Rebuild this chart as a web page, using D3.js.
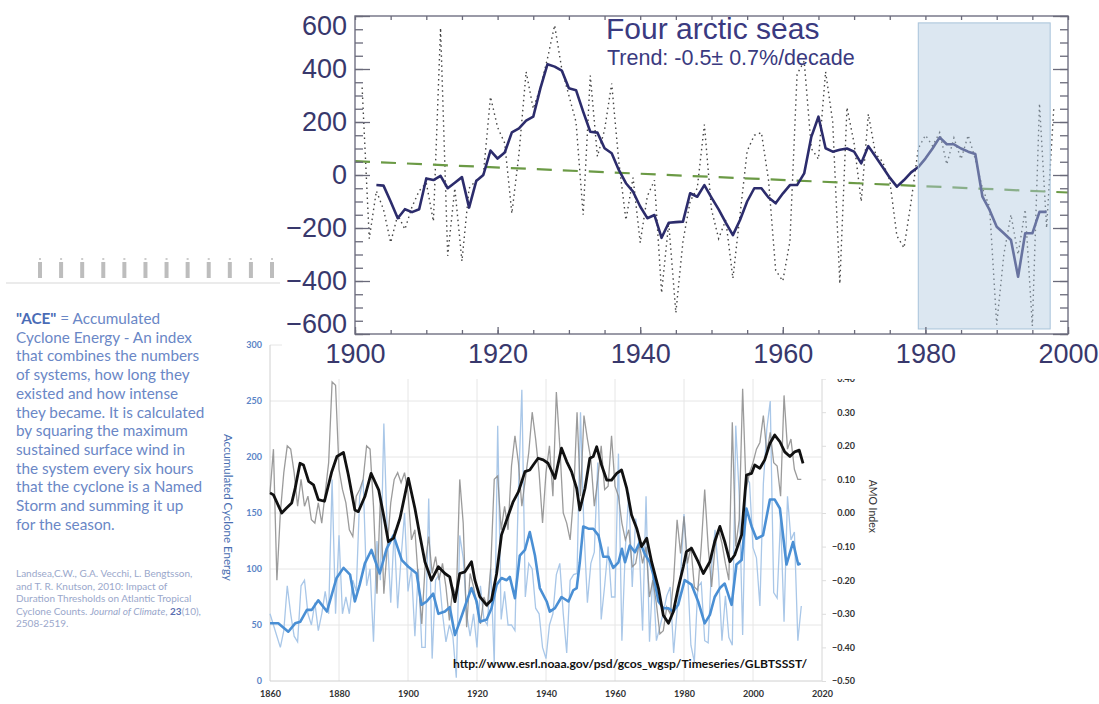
<!DOCTYPE html>
<html>
<head>
<meta charset="utf-8">
<script src="https://cdn.jsdelivr.net/npm/d3@7"></script>
<style>
  body { margin: 0; background: #fff; }
  svg { display: block; }
</style>
</head>
<body>
<svg id="display" width="1099" height="704"></svg>
<script>
// ---------- top chart: four arctic seas ----------
var arcticStart = 1903;
var arcticSmooth = [-38, -40, -100, -163, -129, -140, -129, -13, -19, -3,
  -50, -29, -8, -123, -23, 0, 92, 62, 85, 161,
  176, 205, 220, 327, 418, 409, 394, 327, 320, 239,
  163, 160, 101, 82, 19, -31, -63, -119, -163, -151,
  -237, -180, -178, -176, -69, -82, -38, -85, -130, -180,
  -227, -170, -100, -50, -50, -85, -107, -70, -38, -38,
  6, 144, 220, 101, 88, 95, 100, 88, 44, 109,
  70, 30, -10, -44, -19, 10, 30, 62, 100, 142,
  116, 116, 100, 88, 79, -82, -132, -195, -220, -245,
  -384, -220, -220, -139, -139];

var arcticAnnualStart = 1901;
var arcticAnnual = [330, -240, -60, -130, -255, -150, -205, -120, -60, -30,
  -175, 555, -305, -50, -325, -50, -20, 0, 295, 180,
  120, -145, 80, 390, 250, 330, 440, 565, 400, 300,
  200, -150, 375, 70, 170, 345, 50, -170, -10, -255,
  -80, -20, -445, -180, -520, -250, -100, -50, 190, -130,
  -240, -170, -390, -150, 90, 150, 160, -20, -360, -400,
  -250, 380, 430, 100, 60, 390, 200, -410, 255, 120,
  -100, 230, 80, 50, -20, -230, -275, -100, 100, 150,
  110, 160, 40, 140, 60, 150, 60, -50, -120, -565,
  -300, -150, -300, -130, -570, 270, -200, 250];

var trendYears = [1900, 2000];
var trendValues = [52, -66];
var boxYears = [1979, 1997.5];
var boxValues = [-581, 574];
var topYTicks = [-600, -400, -200, 0, 200, 400, 600];
var topXTicks = [1900, 1920, 1940, 1960, 1980, 2000];
var topTitle = "Four arctic seas";
var topSubtitle = "Trend: -0.5\u00b1 0.7%/decade";

// ---------- bottom chart: ACE and AMO ----------
var annualStart = 1860;
var aceAnnual = [60, 50, 40, 30, 45, 85, 60, 40, 35, 85,
  90, 60, 50, 70, 45, 60, 80, 60, 180, 60,
  130, 60, 75, 60, 90, 80, 165, 180, 85, 100,
  35, 125, 90, 230, 130, 70, 135, 65, 110, 150,
  80, 100, 40, 100, 30, 30, 163, 20, 90, 95,
  60, 35, 50, 40, 3, 130, 110, 60, 40, 60,
  30, 85, 55, 50, 100, 15, 228, 55, 80, 50,
  50, 45, 170, 260, 75, 105, 100, 65, 60, 30,
  20, 50, 60, 95, 105, 60, 25, 90, 95, 96,
  240, 135, 70, 105, 115, 195, 55, 85, 120, 75,
  75, 203, 36, 118, 168, 84, 145, 122, 45, 165,
  35, 97, 36, 48, 61, 76, 84, 25, 63, 93,
  149, 100, 32, 17, 84, 88, 36, 34, 103, 135,
  97, 36, 76, 39, 32, 228, 166, 41, 182, 177,
  119, 110, 67, 176, 225, 250, 79, 74, 146, 53,
  165, 126, 133, 36, 67];

var amoAnnual = [0.06, 0.19, -0.20, 0.00, 0.12, 0.20, 0.19, 0.12, 0.02, 0.10,
  0.02, 0.05, -0.02, -0.03, 0.03, -0.03, 0.06, 0.15, 0.39, 0.38,
  0.13, 0.07, 0.03, -0.05, -0.07, 0.05, 0.07, 0.10, 0.20, 0.19,
  0.02, -0.24, 0.05, -0.24, -0.10, 0.03, 0.10, 0.12, 0.09, 0.12,
  0.06, -0.08, -0.05, -0.20, -0.33, -0.15, -0.07, -0.18, -0.13, -0.20,
  -0.15, -0.22, -0.32, -0.22, -0.25, 0.10, -0.03, -0.34, -0.18, -0.22,
  -0.28, -0.33, -0.25, -0.28, -0.16, 0.10, 0.11, -0.05, 0.02, -0.05,
  0.14, 0.23, 0.15, 0.02, 0.10, 0.18, 0.30, 0.22, 0.12, -0.03,
  0.12, 0.20, 0.05, 0.36, 0.20, 0.00, -0.03, -0.08, 0.05, 0.30,
  0.05, 0.29, 0.22, 0.16, 0.02, 0.10, 0.20, 0.07, 0.08, 0.23,
  0.08, 0.05, -0.03, -0.08, -0.05, -0.16, -0.15, -0.09, -0.15, -0.10,
  -0.25, -0.20, -0.27, -0.36, -0.35, -0.28, -0.30, -0.20, -0.02, -0.12,
  -0.01, -0.15, -0.10, -0.22, -0.23, -0.10, 0.07, -0.10, -0.22, -0.10,
  -0.05, -0.09, -0.15, -0.20, 0.27, -0.10, -0.02, 0.37, 0.07, 0.12,
  0.15, 0.19, 0.21, 0.29, 0.18, 0.24, 0.15, 0.14, 0.05, 0.35,
  0.19, 0.22, 0.13, 0.10, 0.10];

var aceSmoothYears = [1860, 1862.4, 1865.3, 1867.3, 1868.8, 1870.7, 1872.1, 1874, 1876.5, 1877.9,
  1879.3, 1881.3, 1883.2, 1884.6, 1886, 1887.5, 1889.4, 1891.8, 1893.8, 1895.8,
  1898.2, 1900.1, 1902.5, 1903.9, 1905.4, 1907.3, 1908.8, 1910.7, 1912.1, 1913.6,
  1915, 1917, 1918.4, 1919.9, 1920.8, 1922.8, 1924.2, 1925.7, 1927.1, 1928.6,
  1929.5, 1931, 1932.4, 1933.9, 1935.3, 1936.8, 1938.2, 1940.2, 1941.1, 1942.6,
  1944.5, 1946.5, 1947.9, 1948.9, 1949.8, 1950.8, 1952.3, 1953.7, 1955.2, 1956.6,
  1958.1, 1959.5, 1961, 1962, 1962.9, 1964.3, 1965.8, 1967.2, 1968.7, 1970.1,
  1971.1, 1972.6, 1974, 1975.5, 1976.9, 1978.3, 1980.2, 1982.2, 1984.1, 1986,
  1987.5, 1988.9, 1990.4, 1991.8, 1993.8, 1995.2, 1996.7, 1998.1, 1999.6, 2001,
  2002.9, 2004.9, 2006.3, 2007.8, 2009.7, 2011.6, 2013.1, 2013.8];
var aceSmooth = [51.5, 51.5, 44, 51.5, 53, 63.5, 63.5, 72, 62, 77,
  92, 101, 95, 71, 86, 105, 117, 96, 118, 130,
  108, 102, 96, 68, 71, 78, 60, 62, 66, 41,
  53, 71, 83, 71, 53, 55, 65, 86, 92, 90,
  93, 74, 112, 117, 133, 112, 83, 71, 62, 65,
  75, 71, 81, 83, 106, 138, 136, 136, 130, 111,
  111, 101, 106, 118, 106, 121, 115, 124, 113, 106,
  95, 71, 65, 65, 62, 68, 90, 86, 71, 51.5,
  59, 75, 83, 87, 68, 104, 108, 154, 138, 127,
  130, 162, 162, 154, 104, 124, 104, 105];

var amoSmoothYears = [1860, 1861, 1863.4, 1864.8, 1866.3, 1867.3, 1868.7, 1869.7, 1871.2, 1872.6,
  1874, 1875.8, 1877.9, 1879.4, 1881.3, 1882.7, 1884.6, 1885.6, 1887.5, 1889.3,
  1891.5, 1892.9, 1894.3, 1895.8, 1897.7, 1900.1, 1902, 1903.4, 1904.9, 1906.8,
  1908.8, 1910.7, 1912.1, 1913.6, 1915, 1916.5, 1918.4, 1919.4, 1920.8, 1922.8,
  1924.2, 1925.7, 1927.1, 1929.1, 1930.5, 1932, 1933.9, 1935.3, 1936.3, 1937.7,
  1939.2, 1940.6, 1942.6, 1944.5, 1946, 1947.4, 1948.9, 1949.8, 1951.3, 1952.7,
  1953.7, 1954.7, 1956.1, 1957.6, 1959, 1960.5, 1961.9, 1963.4, 1964.8, 1966.3,
  1967.7, 1969.2, 1970.6, 1972.6, 1974, 1975.5, 1976.9, 1978.3, 1979.8, 1980.7,
  1982.2, 1984.1, 1985.6, 1987.5, 1988.9, 1990.4, 1991.8, 1993.3, 1994.7, 1996.7,
  1998.1, 1999.6, 2000.5, 2002, 2003.4, 2004.9, 2006.3, 2007.8, 2009.2, 2010.7,
  2012.1, 2013.4, 2014.5];
var amoSmooth = [0.06, 0.054, 0.0, 0.015, 0.03, 0.074, 0.148, 0.143, 0.094, 0.084,
  0.04, 0.035, 0.123, 0.168, 0.18, 0.114, 0.009, 0.004, 0.049, 0.118,
  0.069, -0.005, -0.085, -0.075, -0.015, 0.103, 0.014, -0.065, -0.145, -0.2,
  -0.16, -0.18, -0.19, -0.264, -0.18, -0.175, -0.145, -0.2, -0.249, -0.274,
  -0.259, -0.18, -0.065, -0.006, 0.034, 0.063, 0.123, 0.128, 0.143, 0.163,
  0.158, 0.148, 0.103, 0.193, 0.153, 0.123, 0.073, 0.009, 0.073, 0.163,
  0.168, 0.197, 0.143, 0.098, 0.098, 0.118, 0.128, 0.073, -0.006, -0.046,
  -0.1, -0.075, -0.145, -0.224, -0.304, -0.328, -0.294, -0.224, -0.16, -0.115,
  -0.105, -0.145, -0.18, -0.145, -0.085, -0.04, -0.085, -0.145, -0.125, -0.065,
  0.113, 0.118, 0.143, 0.133, 0.158, 0.207, 0.232, 0.212, 0.182, 0.168,
  0.182, 0.187, 0.148];

var aceTicks = [0, 50, 100, 150, 200, 250, 300];
var amoTicks = [-0.5, -0.4, -0.3, -0.2, -0.1, 0, 0.1, 0.2, 0.3, 0.4, 0.5];
var yearTicks = [1860, 1880, 1900, 1920, 1940, 1960, 1980, 2000, 2020];
var sourceUrl = "http://www.esrl.noaa.gov/psd/gcos_wgsp/Timeseries/GLBTSSST/";

// ---------- side notes ----------
var noteLines = [
  " = Accumulated",
  "Cyclone Energy - An index",
  "that combines the numbers",
  "of systems, how long they",
  "existed and how intense",
  "they became. It is calculated",
  "by squaring the maximum",
  "sustained surface wind in",
  "the system every six hours",
  "that the cyclone is a Named",
  "Storm and summing it up",
  "for the season."
];
var citeLines = [
  "Landsea,C.W., G.A. Vecchi, L. Bengtsson,",
  "and T. R. Knutson, 2010: Impact of",
  "Duration Thresholds on Atlantic Tropical",
  "Cyclone Counts. |Journal of Climate|, |23|(10),",
  "2508-2519."
];

var svg = d3.select("#display");
var sideFont = "Lato, 'Open Sans', sans-serif";

// ================= bottom chart =================
var xB = d3.scaleLinear().domain([1860, 2020]).range([270, 822]);
var yAce = d3.scaleLinear().domain([0, 300]).range([681, 345]);
var yAmo = d3.scaleLinear().domain([-0.5, 0.5]).range([681, 345]);

var gb = svg.append("g").attr("class", "bottom");

// grid
gb.append("g").selectAll("line")
  .data(aceTicks.slice(1))
  .enter().append("line")
    .attr("x1", xB(1860)).attr("x2", xB(2020))
    .attr("y1", function(d) { return yAce(d); })
    .attr("y2", function(d) { return yAce(d); })
    .attr("stroke", "#e6e6e6").attr("stroke-width", 1);
gb.append("g").selectAll("line")
  .data(yearTicks.slice(1))
  .enter().append("line")
    .attr("x1", function(d) { return xB(d); })
    .attr("x2", function(d) { return xB(d); })
    .attr("y1", yAce(0)).attr("y2", yAce(300))
    .attr("stroke", "#e6e6e6").attr("stroke-width", 1);

gb.append("line")
  .attr("x1", xB(1860)).attr("x2", xB(1860))
  .attr("y1", yAce(0)).attr("y2", yAce(300))
  .attr("stroke", "#d0d0d0");
gb.append("line")
  .attr("x1", xB(1860)).attr("x2", xB(2020))
  .attr("y1", yAce(0)).attr("y2", yAce(0))
  .attr("stroke", "#d0d0d0");
gb.append("line")
  .attr("x1", xB(2020)).attr("x2", xB(2020))
  .attr("y1", yAce(0)).attr("y2", yAce(300))
  .attr("stroke", "#e2e2e2");

// axes
var leftAx = gb.append("g")
  .attr("transform", "translate(" + xB(1860) + ",0)")
  .call(d3.axisLeft(yAce).tickValues(aceTicks).tickSize(0).tickPadding(8));
leftAx.select(".domain").remove();
leftAx.selectAll("text")
  .attr("font-family", sideFont)
  .attr("font-size", 9).attr("font-weight", "bold")
  .attr("fill", "#5b84c6");

var rightAx = gb.append("g")
  .attr("transform", "translate(" + xB(2020) + ",0)")
  .call(d3.axisRight(yAmo).tickValues(amoTicks).tickSize(4)
    .tickFormat(d3.format(".2f")));
rightAx.select(".domain").remove();
rightAx.selectAll("line").attr("stroke", "#dddddd");
rightAx.selectAll("text")
  .attr("x", 33).attr("text-anchor", "end")
  .attr("font-family", sideFont)
  .attr("font-size", 9).attr("font-weight", "bold")
  .attr("fill", "#333");

var botAx = gb.append("g")
  .attr("transform", "translate(0," + yAce(0) + ")")
  .call(d3.axisBottom(xB).tickValues(yearTicks).tickSize(0).tickPadding(10)
    .tickFormat(d3.format("d")));
botAx.select(".domain").remove();
botAx.selectAll("text")
  .attr("font-family", sideFont)
  .attr("font-size", 9).attr("font-weight", "bold")
  .attr("fill", "#333");

// axis titles
gb.append("text")
  .attr("transform", "translate(224," + yAce(155) + ") rotate(90)")
  .attr("text-anchor", "middle")
  .attr("font-family", sideFont)
  .attr("font-size", 11.5)
  .attr("fill", "#4a6fb2")
  .text("Accumulated Cyclone Energy");
gb.append("text")
  .attr("transform", "translate(869," + yAmo(0.02) + ") rotate(90)")
  .attr("text-anchor", "middle")
  .attr("font-family", sideFont)
  .attr("font-size", 10.5)
  .attr("fill", "#333")
  .text("AMO Index");

// series
var lineAceAnnual = d3.line()
  .x(function(d, i) { return xB(annualStart + i); })
  .y(function(d) { return yAce(d); });
var lineAmoAnnual = d3.line()
  .x(function(d, i) { return xB(annualStart + i); })
  .y(function(d) { return yAmo(d); });
var lineAceSmooth = d3.line()
  .x(function(d, i) { return xB(aceSmoothYears[i]); })
  .y(function(d) { return yAce(d); });
var lineAmoSmooth = d3.line()
  .x(function(d, i) { return xB(amoSmoothYears[i]); })
  .y(function(d) { return yAmo(d); });

gb.append("path").datum(aceAnnual)
  .attr("d", lineAceAnnual)
  .attr("fill", "none").attr("stroke", "#a9c7e8").attr("stroke-width", 1.3);
gb.append("path").datum(amoAnnual)
  .attr("d", lineAmoAnnual)
  .attr("fill", "none").attr("stroke", "#8a8a8a").attr("stroke-opacity", 0.85)
  .attr("stroke-width", 1.3);
gb.append("path").datum(aceSmooth)
  .attr("d", lineAceSmooth)
  .attr("fill", "none").attr("stroke", "#4a8fd4").attr("stroke-width", 2.6)
  .attr("stroke-linejoin", "round");
gb.append("path").datum(amoSmooth)
  .attr("d", lineAmoSmooth)
  .attr("fill", "none").attr("stroke", "#111").attr("stroke-width", 2.8)
  .attr("stroke-linejoin", "round");

gb.append("text")
  .attr("x", 453).attr("y", 668)
  .attr("font-family", sideFont)
  .attr("font-size", 12.1).attr("font-weight", "bold")
  .attr("fill", "#111")
  .text(sourceUrl);

// ================= left notes =================
var gl = svg.append("g");
var stripX = d3.scaleLinear().domain([0, 11]).range([40, 272]);
gl.append("line")
  .attr("x1", 6).attr("x2", 280).attr("y1", 283).attr("y2", 283)
  .attr("stroke", "#e4e4e4").attr("stroke-width", 1.5);
gl.selectAll("rect.mark")
  .data(d3.range(12))
  .enter().append("rect")
    .attr("class", "mark")
    .attr("x", function(d) { return stripX(d) - 2; })
    .attr("y", 262).attr("width", 4).attr("height", 16)
    .attr("fill", "#bdbdbd");
gl.selectAll("rect.dot")
  .data(d3.range(12))
  .enter().append("rect")
    .attr("class", "dot")
    .attr("x", function(d) { return stripX(d) - 1; })
    .attr("y", 258).attr("width", 2).attr("height", 2)
    .attr("fill", "#cccccc");

var note = gl.append("text")
  .attr("font-family", sideFont)
  .attr("font-size", 15.3)
  .attr("fill", "#6a87c6");
noteLines.forEach(function(t, i) {
  var ln = note.append("tspan").attr("x", 16).attr("y", 324 + i * 18.7);
  if (i === 0) {
    ln.append("tspan").attr("font-weight", "bold").attr("fill", "#4a6cb6").text("\"ACE\"");
  }
  ln.append("tspan").text(t);
});

var cite = gl.append("text")
  .attr("font-family", sideFont)
  .attr("font-size", 10)
  .attr("fill", "#9aa7cb");
citeLines.forEach(function(t, i) {
  var ln = cite.append("tspan").attr("x", 16).attr("y", 577 + i * 12.5);
  t.split("|").forEach(function(part, j) {
    var s = ln.append("tspan").text(part);
    if (j === 1) s.attr("font-style", "italic");
    if (j === 3) s.attr("font-weight", "bold").attr("fill", "#5a6fb0");
  });
});

// ================= top chart =================
var xT = d3.scaleLinear().domain([1900, 2000]).range([355, 1068]);
var yT = d3.scaleLinear().domain([-600, 600]).range([334, 16]);

var gt = svg.append("g").attr("class", "top");
gt.append("rect")
  .attr("x", 282).attr("y", 0).attr("width", 817).attr("height", 379)
  .attr("fill", "#fff");

var smoothLine = d3.line()
  .x(function(d, i) { return xT(arcticStart + i); })
  .y(function(d) { return yT(d); });
var annualLine = d3.line()
  .x(function(d, i) { return xT(arcticAnnualStart + i); })
  .y(function(d) { return yT(d); });

gt.append("path").datum(arcticAnnual)
  .attr("d", annualLine)
  .attr("fill", "none").attr("stroke", "#444")
  .attr("stroke-width", 1.4).attr("stroke-dasharray", "1.5,3.5");

gt.append("path")
  .datum(trendYears.map(function(y, i) { return [y, trendValues[i]]; }))
  .attr("d", d3.line()
    .x(function(d) { return xT(d[0]); })
    .y(function(d) { return yT(d[1]); }))
  .attr("stroke", "#6b9a45").attr("stroke-width", 2.2)
  .attr("stroke-dasharray", "15,11");

gt.append("path").datum(arcticSmooth)
  .attr("d", smoothLine)
  .attr("fill", "none").attr("stroke", "#2c2c6c")
  .attr("stroke-width", 2.6).attr("stroke-linejoin", "round");

gt.append("rect")
  .attr("x", xT(boxYears[0])).attr("y", yT(boxValues[1]))
  .attr("width", xT(boxYears[1]) - xT(boxYears[0]))
  .attr("height", yT(boxValues[0]) - yT(boxValues[1]))
  .attr("fill", "#b2cae0").attr("fill-opacity", 0.45)
  .attr("stroke", "#a8c3da").attr("stroke-width", 1);

// frame and ticks
gt.append("rect")
  .attr("x", xT(1900)).attr("y", yT(600))
  .attr("width", xT(2000) - xT(1900)).attr("height", yT(-600) - yT(600))
  .attr("fill", "none").attr("stroke", "#7a7a8a").attr("stroke-width", 1.5);

var tickColour = "#6a6a7a";
function tickAxis(axis, tr, size, values) {
  var a = gt.append("g").attr("transform", tr)
    .call(axis.tickValues(values).tickSize(size).tickFormat(""));
  a.select(".domain").remove();
  a.selectAll("line").attr("stroke", tickColour).attr("stroke-width", 1.3);
  return a;
}
var yMinor = d3.range(-600, 601, 50);
var xMinor = d3.range(1900, 2001, 5);
tickAxis(d3.axisLeft(yT), "translate(" + xT(1900) + ",0)", -8, yMinor);
tickAxis(d3.axisLeft(yT), "translate(" + xT(1900) + ",0)", -15, topYTicks);
tickAxis(d3.axisRight(yT), "translate(" + xT(2000) + ",0)", -8, yMinor);
tickAxis(d3.axisRight(yT), "translate(" + xT(2000) + ",0)", -15, topYTicks);
tickAxis(d3.axisBottom(xT), "translate(0," + yT(-600) + ")", -4, xMinor);
tickAxis(d3.axisBottom(xT), "translate(0," + yT(-600) + ")", -7, topXTicks);
tickAxis(d3.axisTop(xT), "translate(0," + yT(600) + ")", -4, xMinor);

var labelFont = "'Liberation Sans', Arial, sans-serif";
var yLab = gt.append("g")
  .attr("transform", "translate(" + xT(1900) + ",0)")
  .call(d3.axisLeft(yT).tickValues(topYTicks).tickSize(0).tickPadding(8));
yLab.select(".domain").remove();
yLab.selectAll("text")
  .attr("font-family", labelFont).attr("font-size", 27)
  .attr("fill", "#38386c")
  .attr("dy", function(d) { return d === 600 ? "0.7em" : d === -600 ? "-0.05em" : "0.32em"; });

var xLab = gt.append("g")
  .attr("transform", "translate(0," + yT(-600) + ")")
  .call(d3.axisBottom(xT).tickValues(topXTicks).tickSize(0).tickPadding(10)
    .tickFormat(d3.format("d")));
xLab.select(".domain").remove();
xLab.selectAll("text")
  .attr("font-family", labelFont).attr("font-size", 27)
  .attr("fill", "#38386c");

gt.append("text")
  .attr("x", 606).attr("y", 39)
  .attr("font-family", labelFont).attr("font-size", 30)
  .attr("fill", "#3a3a80")
  .text(topTitle);
gt.append("text")
  .attr("x", 607).attr("y", 65)
  .attr("font-family", labelFont).attr("font-size", 21.5)
  .attr("fill", "#3a3a80")
  .text(topSubtitle);
</script>
</body>
</html>
